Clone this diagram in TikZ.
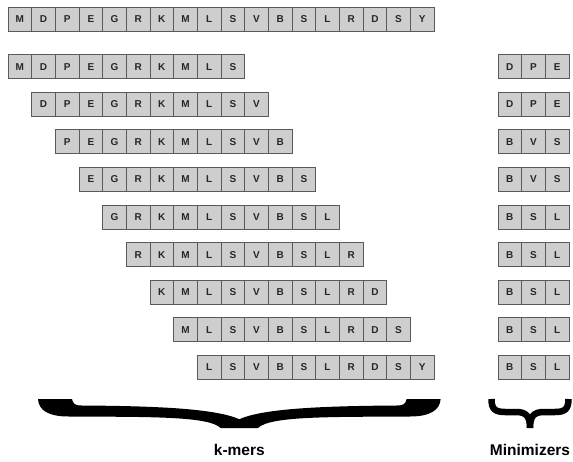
\documentclass[tikz,border=0pt]{standalone}
\usepackage{fontspec}
\setmainfont{Liberation Sans}

\definecolor{cellfill}{RGB}{206,206,206}
\definecolor{cellline}{RGB}{90,90,90}

\tikzset{
    seqcell/.style={draw=cellline,fill=cellfill,line width=0.8pt,
        minimum width=23.67pt,minimum height=24pt,inner sep=0pt,
        font=\fontsize{10}{11}\selectfont\bfseries,text=black!85},
    bracelabel/.style={font=\fontsize{15.5}{17}\selectfont\bfseries,anchor=base}
}

\begin{document}
\begin{tikzpicture}[x=1pt,y=-1pt]
    \useasboundingbox (0,0) rectangle (573,462);

    % whole sequence
    \foreach \ch [count=\i] in {M,D,P,E,G,R,K,M,L,S,V,B,S,L,R,D,S,Y}{
        \node[seqcell] (top-\i) at ({8+23.67*\i-11.835},19) {\ch};
    }

    % k-mers and their minimizers
    \foreach \r/\kmer/\mini in {
        1/{M,D,P,E,G,R,K,M,L,S}/{D,P,E},
        2/{D,P,E,G,R,K,M,L,S,V}/{D,P,E},
        3/{P,E,G,R,K,M,L,S,V,B}/{B,V,S},
        4/{E,G,R,K,M,L,S,V,B,S}/{B,V,S},
        5/{G,R,K,M,L,S,V,B,S,L}/{B,S,L},
        6/{R,K,M,L,S,V,B,S,L,R}/{B,S,L},
        7/{K,M,L,S,V,B,S,L,R,D}/{B,S,L},
        8/{M,L,S,V,B,S,L,R,D,S}/{B,S,L},
        9/{L,S,V,B,S,L,R,D,S,Y}/{B,S,L}}{
        \foreach \ch [count=\c] in \kmer{
            \node[seqcell] (k\r-\c) at ({19.835+23.67*(\r+\c-2)},{66.7+37.6*(\r-1)}) {\ch};
        }
        \foreach \ch [count=\c] in \mini{
            \node[seqcell] (m\r-\c) at ({498+23.67*\c-11.835},{66.7+37.6*(\r-1)}) {\ch};
        }
    }

    % braces
    \fill (38,399) -- (72,399) .. controls (73,404) and (75,405.5) .. (82,405.5)
        .. controls (150,406) and (215,408) .. (239.3,419.3)
        .. controls (263.6,408) and (328.6,406) .. (396.6,405.5)
        .. controls (403.6,405.5) and (405.6,404) .. (406.6,399)
        -- (440.6,399) .. controls (440,410) and (430,416.5) .. (410,416.5)
        .. controls (330,417) and (270,416) .. (258,428) -- (220.6,428)
        .. controls (208.6,416) and (148.6,417) .. (68.6,416.5)
        .. controls (48,416.5) and (38.6,410) .. (38,399) -- cycle;
    \draw[line width=6.5pt] (491.5,399) .. controls (491.5,409) and (495,412) .. (505,412)
        -- (516,412) .. controls (526,412) and (530,416) .. (530,428);
    \draw[line width=6.5pt] (568.5,399) .. controls (568.5,409) and (565,412) .. (555,412)
        -- (544,412) .. controls (534,412) and (530,416) .. (530,428);

    \node[bracelabel] (kmers) at (239.3,455) {k-mers};
    \node[bracelabel] (minis) at (530,455) {Minimizers};
\end{tikzpicture}
\end{document}
